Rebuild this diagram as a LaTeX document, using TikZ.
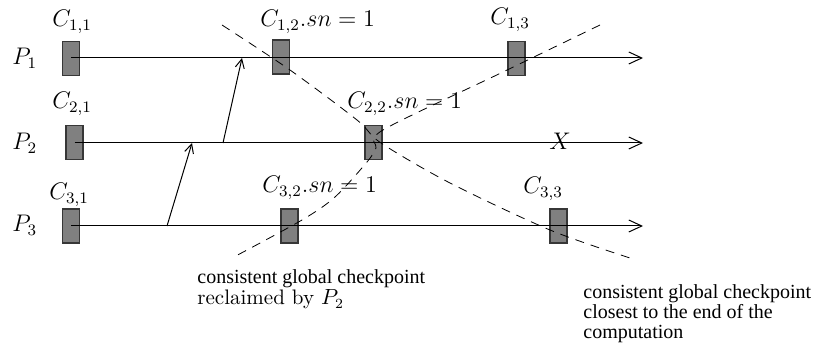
\documentclass[tikz,border=0pt]{standalone}
\usepackage{fontspec}
\newfontfamily\timesfont{Liberation Serif}
\usetikzlibrary{arrows.meta}
\definecolor{ckpt-fill}{RGB}{128,128,128}
\definecolor{ckpt-edge}{RGB}{55,55,55}

\begin{document}
\begin{tikzpicture}[x=0.5pt, y=-0.5pt,
  ckpt/.style={draw=ckpt-edge, fill=ckpt-fill, line width=0.6pt, minimum width=8.5pt, minimum height=17pt, inner sep=0pt},
  lbl/.style={font=\fontsize{12}{14}\selectfont, inner sep=0pt, anchor=base west},
  note/.style={font=\timesfont\fontsize{10}{10}\selectfont, inner sep=0pt, anchor=base west},
  timeline/.style={-{Straight Barb[length=6.5pt, width=6pt]}, line width=0.5pt},
  msg/.style={-{Straight Barb[length=4.5pt, width=4.5pt]}, line width=0.5pt},
  cut/.style={dash pattern=on 4.5pt off 3.5pt, line width=0.4pt}]
  \useasboundingbox (0,0) rectangle (815,347);

  % Checkpoints
  \node[ckpt] (c11) at (71,58.5) {};
  \node[ckpt] (c12) at (281,57) {};
  \node[ckpt] (c13) at (516.5,58.5) {};
  \node[ckpt] (c21) at (74.5,142.5) {};
  \node[ckpt] (c22) at (373.5,142.5) {};
  \node[ckpt] (c31) at (71,226) {};
  \node[ckpt] (c32) at (289.5,226) {};
  \node[ckpt] (c33) at (558.5,226) {};

  % Process lines
  \coordinate (p1end) at (643,58);
  \coordinate (p2end) at (643,143);
  \coordinate (p3end) at (643,226);
  \draw[timeline] (71,58) -- (p1end);
  \draw[timeline] (74.5,143) -- (p2end);
  \draw[timeline] (71,226) -- (p3end);

  \node[lbl] (p1) at (12,65) {$P_1$};
  \node[lbl] (p2) at (12,150) {$P_2$};
  \node[lbl] (p3) at (12,232) {$P_3$};

  \node[lbl] (l11) at (52,26.5) {$C_{1,1}$};
  \node[lbl] (l12) at (260,26.5) {$C_{1,2}.sn = 1$};
  \node[lbl] (l13) at (490,25) {$C_{1,3}$};
  \node[lbl] (l21) at (52,109) {$C_{2,1}$};
  \node[lbl] (l22) at (347,109) {$C_{2,2}.sn = 1$};
  \node[lbl] (l31) at (49,200) {$C_{3,1}$};
  \node[lbl] (l32) at (262,193) {$C_{3,2}.sn = 1$};
  \node[lbl] (l33) at (523,194) {$C_{3,3}$};
  \node[lbl] (x) at (549,150) {$X$};

  % Messages
  \coordinate (m1s) at (167,226);
  \coordinate (m1r) at (192,143);
  \coordinate (m2s) at (223,143);
  \coordinate (m2r) at (242,58);
  \draw[msg] (m1s) -- (m1r);
  \draw[msg] (m2s) -- (m2r);

  % Global checkpoints
  \draw[cut] plot[smooth, tension=0.5] coordinates
    {(222,25) (290,70) (357,120) (381,143) (450,183) (550,230) (630,258)};
  \draw[cut] plot[smooth, tension=0.5] coordinates
    {(600,25) (503,72) (383,130) (376,148) (367,162) (335,197) (302,220) (232,258)};

  \node[note] (n1) at (197,284) {consistent global checkpoint};
  \node[lbl, font=\fontsize{10.5}{12}\selectfont] (n2) at (197,305) {reclaimed by $P_2$};
  \node[note] (n3) at (583,299) {consistent global checkpoint};
  \node[note] (n4) at (583,319) {closest to the end of the};
  \node[note] (n5) at (583,339) {computation};
\end{tikzpicture}
\end{document}
